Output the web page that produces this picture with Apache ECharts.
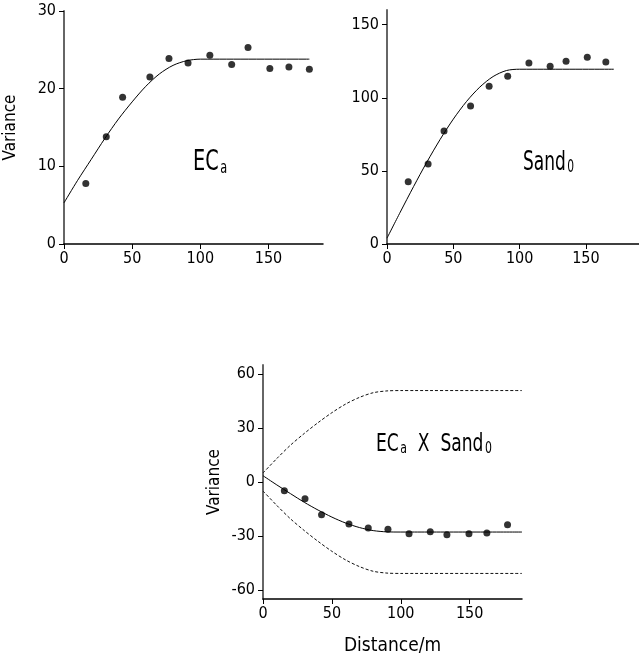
<!DOCTYPE html>
<html>
<head>
<meta charset="utf-8">
<script src="https://cdn.jsdelivr.net/npm/echarts@6/dist/echarts.min.js"></script>
<style>html,body{margin:0;padding:0;background:#fff}#c{width:639px;height:661px}</style>
</head>
<body>
<div id="c"></div>
<script>
// ---- data ----
const xTicks = [0, 50, 100, 150];
const yTicksEC = [0, 10, 20, 30];
const yTicksSand = [0, 50, 100, 150];
const yTicksCross = [-60, -30, 0, 30, 60];

const lagsEC = [16, 31, 43, 63, 77, 91, 107, 123, 135, 151, 165, 180];
const varEC = [7.8, 13.8, 18.9, 21.5, 23.9, 23.3, 24.3, 23.1, 25.3, 22.6, 22.8, 22.5];

const lagsSand = [16, 31, 43, 63, 77, 91, 107, 123, 135, 151, 165];
const varSand = [42.5, 54.7, 77.3, 94.3, 107.9, 114.7, 123.8, 121.6, 125.0, 127.7, 124.5];

const lagsCross = [15.5, 30.5, 42.5, 62.4, 76.4, 90.7, 106, 121.4, 133.5, 149.5, 162.5, 177.5];
const varCross = [-4.8, -9.3, -18.2, -23.4, -25.6, -26.2, -28.8, -27.7, -29.3, -28.8, -28.4, -23.7];

// fitted model curves
const fitDistEC = [0, 10, 20, 30, 40, 50, 60, 70, 80, 90, 100, 110, 180];
const fitEC = [5.3, 8.2, 10.9, 13.6, 16.1, 18.3, 20.3, 21.9, 23.0, 23.6, 23.8, 23.8, 23.8];

const fitDistSand = [0, 10, 20, 30, 40, 50, 60, 70, 80, 90, 100, 110, 171];
const fitSand = [4.0, 21.8, 39.2, 55.9, 71.4, 85.4, 97.5, 107.3, 114.5, 118.6, 119.5, 119.5, 119.5];

const fitDistCross = [0, 10, 20, 30, 40, 50, 60, 70, 80, 90, 100, 110, 188];
const fitCross = [3.5, -1.6, -6.5, -11.3, -15.6, -19.5, -22.8, -25.3, -27.0, -27.7, -27.8, -27.8, -27.8];

const boundDist = [0, 10, 20, 30, 40, 50, 60, 70, 80, 90, 100, 110, 188];
const boundUpper = [5.0, 13.0, 20.5, 27.0, 33.0, 38.5, 43.3, 47.0, 49.6, 50.6, 50.8, 50.8, 50.8];
const boundLower = [-5.0, -13.0, -20.5, -27.0, -33.0, -38.5, -43.3, -47.0, -49.6, -50.6, -50.8, -50.8, -50.8];

// ---- chart ----
const FONT = "'Liberation Sans Narrow', 'DejaVu Sans Condensed', 'Liberation Sans', sans-serif";
const zip = (xs, ys) => xs.map((x, i) => [x, ys[i]]);

function xAx(gi, max, name) {
  return {
    type: 'value', gridIndex: gi, min: 0, max: max,
    axisLine: { show: true, onZero: false, lineStyle: { color: '#000', width: 1.5 } },
    axisTick: { show: true, inside: false, length: 5, customValues: xTicks, lineStyle: { color: '#000', width: 1 } },
    axisLabel: { customValues: xTicks, margin: 7, fontFamily: FONT, fontSize: 16, color: '#000' },
    splitLine: { show: false },
    name: name || '', nameLocation: 'middle', nameGap: 38,
    nameTextStyle: { fontFamily: FONT, fontSize: 19, color: '#000' }
  };
}
function yAx(gi, min, max, ticks, name, gap) {
  return {
    type: 'value', gridIndex: gi, min: min, max: max,
    axisLine: { show: true, onZero: false, lineStyle: { color: '#666', width: 2 } },
    axisTick: { show: true, inside: false, length: 5, customValues: ticks, lineStyle: { color: '#000', width: 1 } },
    axisLabel: { customValues: ticks, margin: 8, fontFamily: FONT, fontSize: 16, color: '#000' },
    splitLine: { show: false },
    name: name || '', nameLocation: 'middle', nameGap: gap || 40,
    nameTextStyle: { fontFamily: FONT, fontSize: 17, color: '#000' }
  };
}
function scatter(i, xs, ys) {
  return { type: 'scatter', xAxisIndex: i, yAxisIndex: i, data: zip(xs, ys), symbol: 'circle', symbolSize: 7,
    itemStyle: { color: '#000' }, silent: true, z: 5 };
}
function line(i, xs, ys, dashed) {
  return { type: 'line', xAxisIndex: i, yAxisIndex: i, data: zip(xs, ys), smooth: 0.3,
    showSymbol: false, symbol: 'none', silent: true,
    lineStyle: { color: dashed ? '#111' : '#000', width: 1, type: dashed ? [3, 2] : 'solid' } };
}
function label(x, y, text, size, subSize, sx) {
  return { type: 'text', x: x, y: y, scaleX: sx, scaleY: 1, silent: true,
    style: { text: text, font: size + 'px ' + FONT, fill: '#000', verticalAlign: 'top',
      rich: { s: { fontSize: subSize, fontFamily: FONT, verticalAlign: 'bottom', padding: [8, 0, 0, 2] } } } };
}

const chart = echarts.init(document.getElementById('c'), null, { renderer: 'canvas' });
chart.setOption({
  animation: false,
  backgroundColor: '#fff',
  grid: [
    { left: 64, top: 11, width: 259, height: 233 },
    { left: 387, top: 10, width: 257, height: 234 },
    { left: 263, top: 365, width: 259, height: 234 }
  ],
  xAxis: [xAx(0, 190), xAx(1, 190), xAx(2, 188, 'Distance/m')],
  yAxis: [
    yAx(0, 0, 30, yTicksEC, 'Variance', 45),
    yAx(1, 0, 160, yTicksSand, '', 40),
    yAx(2, -65, 65, yTicksCross, 'Variance', 40)
  ],
  series: [
    line(0, fitDistEC, fitEC, false),
    scatter(0, lagsEC, varEC),
    line(1, fitDistSand, fitSand, false),
    scatter(1, lagsSand, varSand),
    line(2, boundDist, boundUpper, true),
    line(2, boundDist, boundLower, true),
    line(2, fitDistCross, fitCross, false),
    scatter(2, lagsCross, varCross)
  ],
  graphic: [
    label(193, 148, 'EC{s|a}', 29, 17, 0.74),
    label(523, 149, 'Sand{s|0}', 27, 17, 0.7),
    label(376, 432, 'EC{s|a}  X  Sand{s|0}', 25, 16, 0.76)
  ]
});
</script>
</body>
</html>
